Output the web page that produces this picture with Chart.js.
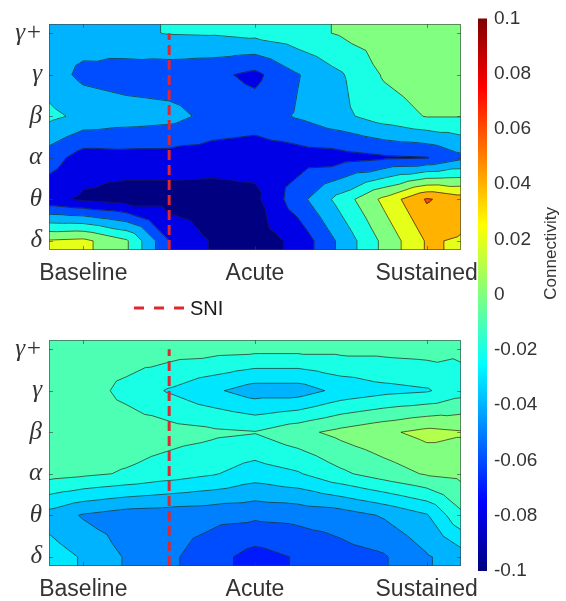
<!DOCTYPE html>
<html>
<head>
<meta charset="utf-8">
<script src="https://cdn.jsdelivr.net/npm/chart.js@4.4.1/dist/chart.umd.min.js"></script>
<style>
  body { margin: 0; background: #fff; }
  #page { position: relative; width: 566px; height: 601px; overflow: hidden; }
  canvas { position: absolute; }
  #top { left: 0; top: 0; }
  #bottom { left: 0; top: 310px; }
  #bar { left: 466px; top: 0; }
  #sni { position: absolute; left: 133px; top: 296px; display: flex; align-items: center;
         font: 20px 'Liberation Sans', Arial, sans-serif; line-height: 24px; color: #1a1a1a; }
  #sni span { margin-left: 3px; }
</style>
</head>
<body>
<div id="page">
  <canvas id="top" width="566" height="290"></canvas>
  <canvas id="bottom" width="566" height="290"></canvas>
  <canvas id="bar" width="100" height="601"></canvas>
  <div id="sni">
    <svg width="54" height="6"><line x1="1" y1="3" x2="54" y2="3" stroke="#e3262e" stroke-width="3" stroke-dasharray="10 10"/></svg>
    <span>SNI</span>
  </div>
</div>
<script>
// axes
const timeTicks = [1, 2, 3]
const timeLabels = ['Baseline', 'Acute', 'Sustained']
const bandRows = [1, 2, 3, 4, 5, 6]
const bandLabels = ['δ', 'θ', 'α', 'β', 'γ', 'γ+']
const sniTime = 1.5

// sample grid (time columns)
const gridTimes = [0.8, 1, 1.25, 1.5, 1.75, 2, 2.25, 2.5, 2.75, 3, 3.2]

// upper panel, one array per band
const topDelta     = [0.022, 0.025, 0.003, -0.06, -0.082, -0.09, -0.075, -0.035, 0.005, 0.042, 0.038]
const topTheta     = [-0.075, -0.083, -0.09, -0.09, -0.09, -0.085, -0.048, -0.012, 0.025, 0.062, 0.05]
const topAlpha     = [-0.05, -0.07, -0.068, -0.068, -0.07, -0.072, -0.07, -0.068, -0.063, -0.061, -0.045]
const topBeta      = [-0.015, -0.025, -0.03, -0.033, -0.046, -0.05, -0.038, -0.025, -0.01, 0.001, 0.001]
const topGamma     = [-0.03, -0.045, -0.05, -0.052, -0.055, -0.065, -0.041, -0.022, 0.002, 0.01, 0.012]
const topGammaPlus = [-0.03, -0.03, -0.024, -0.019, -0.018, -0.014, -0.007, 0.002, 0.01, 0.012, 0.012]

// lower panel
const botDelta     = [-0.025, -0.031, -0.041, -0.048, -0.056, -0.064, -0.059, -0.054, -0.051, -0.041, -0.035]
const botTheta     = [-0.034, -0.041, -0.045, -0.046, -0.047, -0.048, -0.047, -0.045, -0.039, -0.031, -0.012]
const botAlpha     = [-0.006, -0.008, -0.011, -0.015, -0.019, -0.025, -0.021, -0.012, -0.005, 0.001, 0.003]
const botBeta      = [-0.003, -0.003, -0.004, -0.006, -0.008, -0.0095, -0.003, 0.003, 0.008, 0.013, 0.011]
const botGamma     = [-0.004, -0.005, -0.013, -0.021, -0.028, -0.035, -0.035, -0.027, -0.023, -0.021, -0.0143]
const botGammaPlus = [-0.004, -0.004, -0.004, -0.005, -0.006, -0.007, -0.007, -0.007, -0.007, -0.006, -0.008]

// contour levels and colour limits
const topLevels = [-0.1, -0.08, -0.06, -0.04, -0.02, 0, 0.02, 0.04, 0.06, 0.08, 0.1]
const botLevels = [-0.07, -0.06, -0.05, -0.04, -0.03, -0.02, -0.01, 0, 0.01, 0.02]
const colorTicks = [-0.1, -0.08, -0.06, -0.04, -0.02, 0, 0.02, 0.04, 0.06, 0.08, 0.1]
const cMin = -0.1
const cMax = 0.1

const jet = t => {
  const c = v => Math.round(255 * Math.min(1, Math.max(0, v)))
  return `rgb(${c(1.5 - Math.abs(4 * t - 3))},${c(1.5 - Math.abs(4 * t - 2))},${c(1.5 - Math.abs(4 * t - 1))})`
}

const textColor = '#333'
const sansFont = "'Liberation Sans', Arial, sans-serif"

// keep the part of a polygon where sign * (v - level) >= 0
const clipPoly = (poly, level, sign) => {
  const out = []
  for (let i = 0; i < poly.length; i++) {
    const a = poly[i], b = poly[(i + 1) % poly.length]
    const fa = sign * (a.v - level), fb = sign * (b.v - level)
    if (fa >= 0) out.push(a)
    if ((fa >= 0) !== (fb >= 0)) {
      const s = fa / (fa - fb)
      out.push({ x: a.x + s * (b.x - a.x), y: a.y + s * (b.y - a.y), v: a.v + s * (b.v - a.v) })
    }
  }
  return out
}

// repeat the outer rows/columns so the fill reaches the axis limits
const padGrid = (cols, rows, z, xr, yr) => {
  const xs = cols.slice(), ys = rows.slice(), g = z.map(r => r.slice())
  if (xr[0] < xs[0]) { xs.unshift(xr[0]); g.forEach(r => r.unshift(r[0])) }
  if (xr[1] > xs[xs.length - 1]) { xs.push(xr[1]); g.forEach(r => r.push(r[r.length - 1])) }
  if (yr[0] < ys[0]) { ys.unshift(yr[0]); g.unshift(g[0].slice()) }
  if (yr[1] > ys[ys.length - 1]) { ys.push(yr[1]); g.push(g[g.length - 1].slice()) }
  return { xs, ys, g }
}

const contourPlugin = {
  id: 'contour',
  beforeDatasetsDraw(chart, args, opts) {
    const { ctx, chartArea: area, scales: { x, y } } = chart
    const { xs, ys, g } = padGrid(opts.cols, opts.rows, opts.z, [x.min, x.max], [y.min, y.max])
    const levels = opts.levels

    // split each cell into four triangles around its centre
    const tris = []
    for (let j = 0; j < ys.length - 1; j++) {
      for (let i = 0; i < xs.length - 1; i++) {
        const p = (a, b) => ({ x: x.getPixelForValue(xs[a]), y: y.getPixelForValue(ys[b]), v: g[b][a] })
        const c00 = p(i, j), c10 = p(i + 1, j), c11 = p(i + 1, j + 1), c01 = p(i, j + 1)
        const mid = { x: (c00.x + c11.x) / 2, y: (c00.y + c11.y) / 2, v: (c00.v + c10.v + c11.v + c01.v) / 4 }
        tris.push([c00, c10, mid], [c10, c11, mid], [c11, c01, mid], [c01, c00, mid])
      }
    }

    ctx.save()
    ctx.beginPath()
    ctx.rect(area.left, area.top, area.width, area.height)
    ctx.clip()
    ctx.lineJoin = 'round'

    // filled bands, coloured by their lower level
    levels.slice(0, -1).forEach((lo, k) => {
      const hi = levels[k + 1]
      const color = jet((lo - cMin) / (cMax - cMin))
      ctx.beginPath()
      tris.forEach(t => {
        const poly = clipPoly(clipPoly(t, lo, 1), hi, -1)
        if (poly.length < 3) return
        ctx.moveTo(poly[0].x, poly[0].y)
        poly.slice(1).forEach(q => ctx.lineTo(q.x, q.y))
        ctx.closePath()
      })
      ctx.fillStyle = color
      ctx.strokeStyle = color
      ctx.lineWidth = 1
      ctx.fill()
      ctx.stroke()
    })

    // iso lines
    ctx.beginPath()
    levels.forEach(L => tris.forEach(t => {
      const pts = []
      for (let e = 0; e < 3; e++) {
        const a = t[e], b = t[(e + 1) % 3]
        const fa = a.v - L, fb = b.v - L
        if ((fa >= 0) !== (fb >= 0)) {
          const s = fa / (fa - fb)
          pts.push([a.x + s * (b.x - a.x), a.y + s * (b.y - a.y)])
        }
      }
      if (pts.length === 2) {
        ctx.moveTo(pts[0][0], pts[0][1])
        ctx.lineTo(pts[1][0], pts[1][1])
      }
    }))
    ctx.strokeStyle = 'rgba(25,25,25,0.75)'
    ctx.lineWidth = 0.9
    ctx.stroke()
    ctx.restore()
  },
  afterDatasetsDraw(chart) {
    const { ctx, chartArea: a, scales: { x, y } } = chart
    ctx.save()
    ctx.strokeStyle = 'rgba(60,60,60,0.6)'
    ctx.lineWidth = 1
    ctx.strokeRect(a.left + 0.5, a.top + 0.5, a.width - 1, a.height - 1)
    ctx.beginPath()
    timeTicks.forEach(t => {
      const px = Math.round(x.getPixelForValue(t)) + 0.5
      ctx.moveTo(px, a.top); ctx.lineTo(px, a.top + 4)
      ctx.moveTo(px, a.bottom); ctx.lineTo(px, a.bottom - 4)
    })
    bandRows.forEach(r => {
      const py = Math.round(y.getPixelForValue(r)) + 0.5
      ctx.moveTo(a.left, py); ctx.lineTo(a.left + 4, py)
      ctx.moveTo(a.right, py); ctx.lineTo(a.right - 4, py)
    })
    ctx.stroke()
    ctx.restore()
  }
}

const makeContourChart = (el, rows, levels, topPad, axisHeight) => new Chart(el, {
  type: 'line',
  data: {
    datasets: [{
      label: 'SNI',
      data: [{ x: sniTime, y: 0.78 }, { x: sniTime, y: 6 }],
      borderColor: '#e3262e',
      borderWidth: 3,
      borderDash: [10, 5],
      pointRadius: 0
    }]
  },
  options: {
    responsive: false,
    animation: false,
    layout: { padding: { left: 0, top: topPad, right: 105, bottom: 0 } },
    plugins: {
      legend: { display: false },
      tooltip: { enabled: false },
      contour: { cols: gridTimes, rows: bandRows, z: rows, levels }
    },
    scales: {
      x: {
        type: 'linear',
        min: 0.8,
        max: 3.2,
        grid: { display: false, drawTicks: false },
        border: { display: false },
        afterBuildTicks: s => { s.ticks = timeTicks.map(value => ({ value })) },
        afterFit: s => { s.height = axisHeight },
        ticks: {
          padding: 10,
          color: textColor,
          font: { family: sansFont, size: 23 },
          callback: (v, i) => timeLabels[i]
        }
      },
      y: {
        type: 'linear',
        min: 0.78,
        max: 6.22,
        grid: { display: false, drawTicks: false },
        border: { display: false },
        afterBuildTicks: s => { s.ticks = bandRows.map(value => ({ value })) },
        afterFit: s => { s.width = 49 },
        ticks: {
          padding: 7,
          color: textColor,
          font: { family: "'Liberation Serif', 'DejaVu Serif', serif", size: 25, style: 'italic' },
          callback: (v, i) => bandLabels[i]
        }
      }
    }
  },
  plugins: [contourPlugin]
})

const jetGradient = chart => {
  const { ctx, chartArea } = chart
  if (!chartArea) return 'transparent'
  const grad = ctx.createLinearGradient(0, chartArea.bottom, 0, chartArea.top)
  ;[0, 0.125, 0.375, 0.625, 0.875, 1].forEach(t => grad.addColorStop(t, jet(t)))
  return grad
}

const colorbarTitle = {
  id: 'colorbarTitle',
  afterDraw(chart) {
    const { ctx, chartArea } = chart
    ctx.save()
    ctx.translate(chartArea.right + 64, chartArea.top + 235)
    ctx.rotate(-Math.PI / 2)
    ctx.textAlign = 'center'
    ctx.textBaseline = 'middle'
    ctx.fillStyle = textColor
    ctx.font = `17px ${sansFont}`
    ctx.fillText('Connectivity', 0, 0)
    ctx.restore()
  }
}

const makeColorbar = el => new Chart(el, {
  type: 'bar',
  data: {
    labels: [''],
    datasets: [{
      data: [[cMin, cMax]],
      backgroundColor: ctx => jetGradient(ctx.chart),
      borderWidth: 0,
      barPercentage: 1,
      categoryPercentage: 1
    }]
  },
  options: {
    responsive: false,
    animation: false,
    layout: { padding: { left: 12, top: 12, right: 0, bottom: 30 } },
    plugins: { legend: { display: false }, tooltip: { enabled: false } },
    scales: {
      x: { display: false },
      y: {
        position: 'right',
        min: cMin,
        max: cMax,
        grid: { display: false, drawTicks: false },
        border: { display: false },
        afterBuildTicks: s => { s.ticks = colorTicks.map(value => ({ value })) },
        afterFit: s => { s.width = 79 },
        ticks: {
          padding: 7,
          color: textColor,
          font: { family: sansFont, size: 19 },
          callback: v => String(+v.toFixed(2))
        }
      }
    }
  },
  plugins: [colorbarTitle]
})

makeContourChart(document.getElementById('top'),
  [topDelta, topTheta, topAlpha, topBeta, topGamma, topGammaPlus], topLevels, 24, 40)
makeContourChart(document.getElementById('bottom'),
  [botDelta, botTheta, botAlpha, botBeta, botGamma, botGammaPlus], botLevels, 30, 34)
makeColorbar(document.getElementById('bar'))
</script>
</body>
</html>
